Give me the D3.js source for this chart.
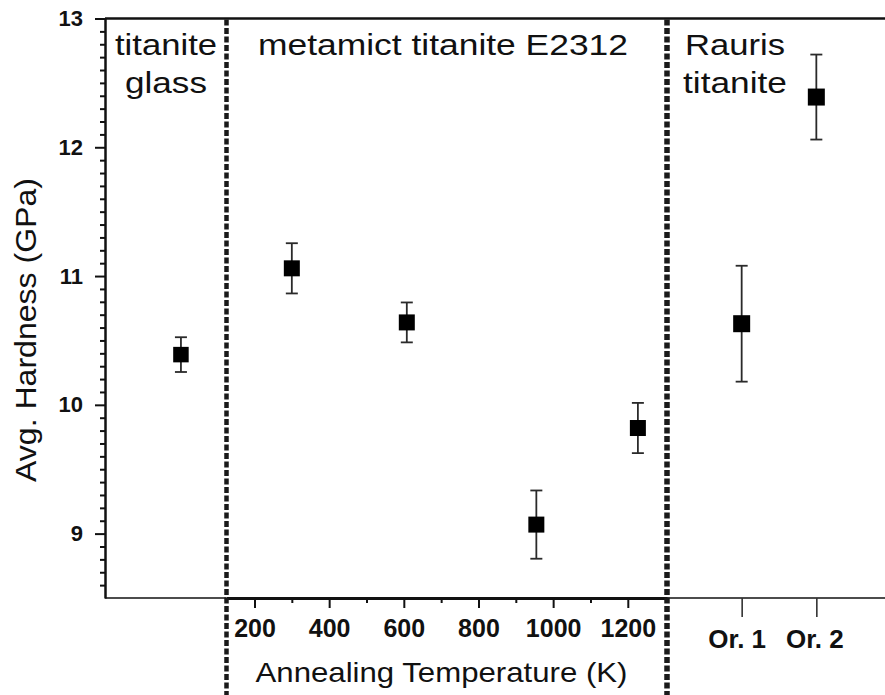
<!DOCTYPE html>
<html>
<head>
<meta charset="utf-8">
<script src="https://cdn.jsdelivr.net/npm/d3@7"></script>
<style>
  html, body { margin: 0; padding: 0; background: #fff; }
  svg { display: block; }
  text { font-family: "Liberation Sans", Arial, Helvetica, sans-serif; fill: #111; }
</style>
</head>
<body>
<svg id="chart" width="885" height="695"></svg>
<script>
// ---------- data ----------
const glassCats = ["titanite glass"];
const glassHardness = [10.39];
const glassErr = [0.135];

const annealTemps = [300, 608, 955, 1227];
const annealHardness = [11.06, 10.64, 9.07, 9.82];
const annealErr = [0.195, 0.155, 0.265, 0.195];

const raurisCats = ["Or. 1", "Or. 2"];
const raurisHardness = [10.63, 12.39];
const raurisErr = [0.45, 0.33];

const yTickValues = [9, 10, 11, 12, 13];
const tempTickValues = [200, 400, 600, 800, 1000, 1200];
const tempMinorValues = [300, 500, 700, 900, 1100];

const panelTitles = ["titanite", "glass", "metamict titanite E2312", "Rauris", "titanite"];
const yLabel = "Avg. Hardness (GPa)";
const xLabel = "Annealing Temperature (K)";

// ---------- layout ----------
(function () {
const svg = d3.select("#chart");
const W = 885;
const mLeft = 105, mTop = 18.5, mBottom = 598;
const div1 = 226.5, div2 = 667;

const y = d3.scaleLinear().domain([8.5, 13]).range([mBottom, mTop]);
const xGlass = d3.scalePoint().domain(glassCats).range([mLeft, div1]).padding(0.5).align(0.625);
const xTemp = d3.scaleLinear().domain([125, 1305]).range([div1, div2]);
const xOr = d3.scalePoint().domain(raurisCats).range([div2, 891]).padding(1);

// ---------- y axis ----------
const yMinor = y.ticks(45).filter(v => Math.abs(v - Math.round(v)) > 1e-6 && v > 8.5);
const gyMinor = svg.append("g").attr("transform", `translate(${mLeft},0)`)
  .call(d3.axisLeft(y).tickValues(yMinor).tickSize(5).tickSizeOuter(0).tickFormat(""));
gyMinor.select(".domain").remove();
gyMinor.selectAll(".tick line").attr("stroke", "#111").attr("stroke-width", 2);

const gy = svg.append("g").attr("transform", `translate(${mLeft},0)`)
  .call(d3.axisLeft(y).tickValues(yTickValues).tickSize(10).tickSizeOuter(0).tickFormat(d3.format("d")));
gy.select(".domain").attr("stroke", "#111").attr("stroke-width", 2.5);
gy.selectAll(".tick line").attr("stroke", "#111").attr("stroke-width", 2);
gy.selectAll(".tick text").attr("x", -22).attr("font-size", 22).attr("font-weight", "bold")
  .attr("font-family", "Liberation Sans, Arial, sans-serif").attr("fill", "#111");

// top frame
svg.append("line").attr("x1", mLeft).attr("x2", W).attr("y1", mTop).attr("y2", mTop)
  .attr("stroke", "#111").attr("stroke-width", 2.5);

// ---------- x axes ----------
svg.append("line").attr("x1", mLeft).attr("x2", div1).attr("y1", mBottom).attr("y2", mBottom)
  .attr("stroke", "#111").attr("stroke-width", 1.5);

const gxMinor = svg.append("g").attr("transform", `translate(0,${mBottom})`)
  .call(d3.axisBottom(xTemp).tickValues(tempMinorValues).tickSize(5).tickSizeOuter(0).tickFormat(""));
gxMinor.select(".domain").remove();
gxMinor.selectAll(".tick line").attr("stroke", "#111").attr("stroke-width", 2);

const gx = svg.append("g").attr("transform", `translate(0,${mBottom})`)
  .call(d3.axisBottom(xTemp).tickValues(tempTickValues).tickSize(10).tickSizeOuter(0).tickFormat(d3.format("d")));
gx.select(".domain").attr("stroke", "#111").attr("stroke-width", 3);
gx.selectAll(".tick line").attr("stroke", "#111").attr("stroke-width", 2);
gx.selectAll(".tick text").attr("y", 39).attr("dy", 0).attr("font-size", 25).attr("font-weight", "bold")
  .attr("font-family", "Liberation Sans, Arial, sans-serif").attr("fill", "#111");

svg.append("line").attr("x1", div2).attr("x2", W).attr("y1", mBottom).attr("y2", mBottom)
  .attr("stroke", "#111").attr("stroke-width", 1.5);
const gOr = svg.append("g").attr("transform", `translate(0,${mBottom})`)
  .call(d3.axisBottom(xOr).tickSize(19).tickSizeOuter(0));
gOr.select(".domain").remove();
gOr.selectAll(".tick line").attr("stroke", "#333").attr("stroke-width", 1.6);
gOr.selectAll(".tick text").attr("y", 50).attr("dy", 0).attr("x", (d, i) => i === 0 ? -5 : -2)
  .attr("font-size", 26).attr("font-weight", "bold")
  .attr("font-family", "Liberation Sans, Arial, sans-serif").attr("fill", "#111");

// ---------- axis titles ----------
svg.append("text").attr("transform", "translate(36,330) rotate(-90)")
  .attr("text-anchor", "middle").attr("font-size", 30)
  .attr("textLength", 304).attr("lengthAdjust", "spacingAndGlyphs").text(yLabel);

svg.append("text").attr("x", 441.5).attr("y", 682).attr("text-anchor", "middle")
  .attr("font-size", 28).attr("textLength", 372).attr("lengthAdjust", "spacingAndGlyphs").text(xLabel);

// ---------- panel titles ----------
const titleSpecs = [
  { t: panelTitles[0], x: 166, y: 55, len: 102 },
  { t: panelTitles[1], x: 166, y: 93, len: 82 },
  { t: panelTitles[2], x: 443, y: 55, len: 370 },
  { t: panelTitles[3], x: 735, y: 55, len: 100 },
  { t: panelTitles[4], x: 735, y: 93, len: 104 }
];
svg.selectAll("text.ptitle").data(titleSpecs).join("text").attr("class", "ptitle")
  .attr("x", d => d.x).attr("y", d => d.y).attr("text-anchor", "middle")
  .attr("font-size", 30).attr("textLength", d => d.len).attr("lengthAdjust", "spacingAndGlyphs")
  .text(d => d.t);

// ---------- points with error bars ----------
function drawSeries(xs, vals, errs, size) {
  const g = svg.append("g");
  const data = vals.map((v, i) => ({ x: xs[i], v, e: errs[i] }));
  const cap = 6;
  g.selectAll("line.eb").data(data).join("line").attr("class", "eb")
    .attr("x1", d => d.x).attr("x2", d => d.x)
    .attr("y1", d => y(d.v + d.e)).attr("y2", d => y(d.v - d.e))
    .attr("stroke", "#2a2a2a").attr("stroke-width", 1.8);
  g.selectAll("line.capt").data(data).join("line").attr("class", "capt")
    .attr("x1", d => d.x - cap).attr("x2", d => d.x + cap)
    .attr("y1", d => y(d.v + d.e)).attr("y2", d => y(d.v + d.e))
    .attr("stroke", "#2a2a2a").attr("stroke-width", 1.8);
  g.selectAll("line.capb").data(data).join("line").attr("class", "capb")
    .attr("x1", d => d.x - cap).attr("x2", d => d.x + cap)
    .attr("y1", d => y(d.v - d.e)).attr("y2", d => y(d.v - d.e))
    .attr("stroke", "#2a2a2a").attr("stroke-width", 1.8);
  g.selectAll("rect").data(data).join("rect")
    .attr("x", d => d.x - size / 2).attr("y", d => y(d.v) - size / 2)
    .attr("width", size).attr("height", size).attr("fill", "#000");
}
drawSeries(glassCats.map(c => xGlass(c)), glassHardness, glassErr, 15.5);
drawSeries(annealTemps.map(t => xTemp(t)), annealHardness, annealErr, 16);
drawSeries(raurisCats.map(c => xOr(c)), raurisHardness, raurisErr, 17);

// ---------- dashed panel dividers ----------
svg.append("line").attr("x1", div1).attr("x2", div1).attr("y1", mTop + 1).attr("y2", 695)
  .attr("stroke", "#1a1a1a").attr("stroke-width", 4.5).attr("stroke-dasharray", "6,2.5");
svg.append("line").attr("x1", div2).attr("x2", div2).attr("y1", mTop + 1).attr("y2", 695)
  .attr("stroke", "#1a1a1a").attr("stroke-width", 5.5).attr("stroke-dasharray", "6,2.5");
})();
</script>
</body>
</html>
